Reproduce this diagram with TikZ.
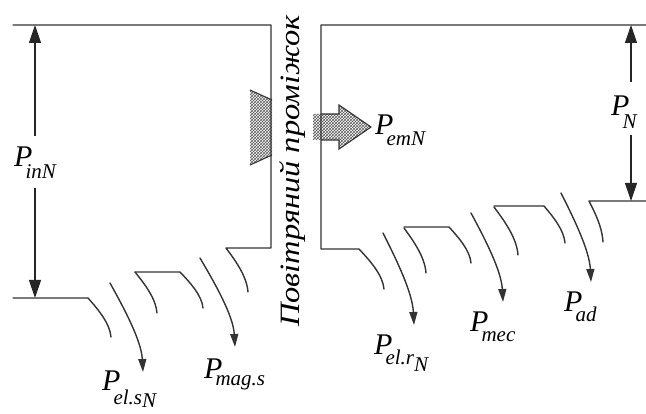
\documentclass[tikz,border=0pt]{standalone}
\usepackage{fontspec}
\setmainfont{Liberation Serif}
\usetikzlibrary{arrows.meta,patterns,calc}
\newcommand\lsub[2]{\kern-7pt\raisebox{-#1}{\fontsize{21}{21}\selectfont #2}}
\newcommand\lsubb[2]{\raisebox{-#1}{\fontsize{21}{21}\selectfont #2}}
\begin{document}
\begin{tikzpicture}[x=1pt,y=-1pt,
  flow/.style={line width=1.4pt,draw=black!80,line cap=round,line join=round},
  lossto/.style={to path={let \p1=(\tikztostart),\p2=(\tikztotarget) in
     .. controls ({\x1+0.45*(\x2-\x1)},{\y1+0.3*(\y2-\y1)}) and ({\x2-0.05*(\x2-\x1)},{\y2-0.35*(\y2-\y1)}) .. (\tikztotarget)}},
  lossarrow/.style={flow,-{Triangle[length=13pt,width=8pt]}},
  dim/.style={line width=1.2pt,draw=black!85,-{Triangle[length=18pt,width=12pt]}},
  lbl/.style={font=\fontsize{30}{32}\selectfont\itshape,inner sep=0pt,anchor=base west},
  gaptext/.style={font=\fontsize{28}{30}\selectfont\itshape,rotate=90,inner sep=0pt},
  hatch/.style={pattern=crosshatch,pattern color=black!65},
  hatchedge/.style={line width=1.1pt,draw=black!80}]
\useasboundingbox (0,0) rectangle (646,414);

% hatched regions
\fill[hatch] (250,90) -- (272,100) -- (272,155) -- (250,165) -- cycle;
\draw[hatchedge] (250,90) -- (272,100) (250,165) -- (272,155);
\fill[hatch] (313,114) -- (339,114) -- (339,105) -- (371,127) -- (339,149) -- (339,140) -- (313,140) -- cycle;
\draw[hatchedge] (321,114) -- (339,114) -- (339,105) -- (371,127) -- (339,149) -- (339,140) -- (321,140);

% left (stator) side
\draw[flow] (13,25) -- (271,25) -- (271,248) -- (226,248) to[lossto] (248,292);
\draw[flow] (13,298) -- (88,298) to[lossto] (111,337);
\draw[flow] (135,272) to[lossto] (157,313);
\draw[flow] (135,272) -- (180,272) to[lossto] (203,308);
\draw[lossarrow] (110,283) to[lossto] (143,372);
\draw[lossarrow] (200,258) to[lossto] (235,347);

% right (rotor) side
\draw[flow] (646,25) -- (321,25) -- (321,249) -- (359,249) to[lossto] (384,289);
\draw[flow] (404,228) to[lossto] (426,273);
\draw[flow] (404,227) -- (449,227) to[lossto] (471,263);
\draw[flow] (494,207) to[lossto] (518,255);
\draw[flow] (494,206) -- (544,206) to[lossto] (565,243);
\draw[flow] (646,201) -- (589,201) to[lossto] (603,242);
\draw[lossarrow] (383,233) to[lossto] (414,325);
\draw[lossarrow] (471,213) to[lossto] (503,302);
\draw[lossarrow] (561,193) to[lossto] (591,282);

% dimension arrows
\coordinate (inTop) at (35,25);
\coordinate (inBot) at (35,298);
\coordinate (nTop) at (631,25);
\coordinate (nBot) at (631,201);
\node[lbl] (lin) at (14,167) {P\lsub{12pt}{inN}};
\draw[dim] (35,136) -- (inTop);
\draw[dim] (35,188) -- (inBot);
\node[lbl] (lN) at (611,116) {P\lsub{13pt}{N}};
\draw[dim] (631,82) -- (nTop);
\draw[dim] (631,135) -- (nBot);

% labels
\node[lbl] (lem) at (375,135) {P\lsub{11pt}{emN}};
\node[lbl] (lels) at (102,391) {P\lsub{14pt}{el.s}\lsubb{17pt}{N}};
\node[lbl] (lmag) at (204,378) {P\lsub{7pt}{mag.s}};
\node[lbl] (lelr) at (374,355) {P\lsub{10pt}{el.r}\lsubb{17pt}{N}};
\node[lbl] (lmec) at (470,332) {P\lsub{10pt}{mec}};
\node[lbl] (lad) at (564,312) {P\lsub{10pt}{ad}};

% air gap text
\node[gaptext] (gap) at (293,171) {\scalebox{1.16}[1]{Повітряний проміжок}};
\end{tikzpicture}
\end{document}
